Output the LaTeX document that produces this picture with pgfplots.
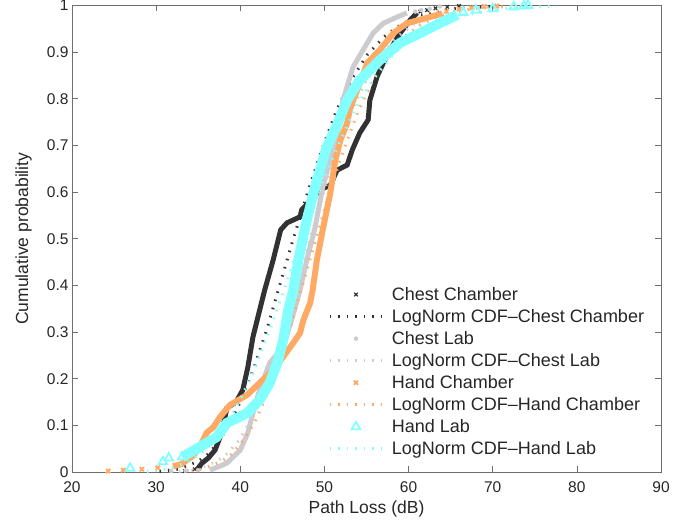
\documentclass[border=0pt]{standalone}
\usepackage{fontspec}
\setmainfont{Liberation Sans}
\usepackage{pgfplots}
\pgfplotsset{compat=1.18}
\definecolor{cch}{RGB}{50,50,50}
\definecolor{clab}{RGB}{204,204,208}
\definecolor{hch}{RGB}{255,170,100}
\definecolor{hlab}{RGB}{130,255,255}
\definecolor{axgray}{RGB}{110,110,110}
\definecolor{txt}{RGB}{38,38,38}
\pgfplotsset{
  lgline/.style={legend image code/.code={\path[draw=none,fill=none] (0pt,0pt) -- (60pt,0pt);\draw[##1] (0pt,0pt) -- (52pt,0pt);}},
  lgmark/.style={legend image code/.code={\path[draw=none,fill=none] (0pt,0pt) -- (60pt,0pt);\draw[##1] plot coordinates {(26pt,0pt)};}},
  fit/.style={line width=3pt, dash pattern=on 1.5pt off 7pt, lgline},
}

\begin{document}
\begin{tikzpicture}
\begin{axis}[name=ax, scale only axis, width=589pt, height=466.5pt,
  xmin=20, xmax=90, ymin=0, ymax=1,
  xtick={20,30,40,50,60,70,80,90},
  ytick={0,0.1,0.2,0.3,0.4,0.5,0.6,0.7,0.8,0.9,1},
  tick align=inside, tick pos=both, major tick length=6pt,
  axis line style={axgray, line width=0.6pt},
  every tick/.style={axgray, line width=0.6pt},
  tick label style={font=\fontsize{15.5}{17}\selectfont, text=txt},
  xticklabel style={yshift=-6pt},
  /pgf/number format/assume math mode=true,
  xlabel={Path Loss (dB)}, ylabel={Cumulative probability},
  label style={font=\fontsize{17.5}{20}\selectfont, text=txt},
  xlabel style={at={(axis description cs:0.5,-0.062)}, anchor=north, inner sep=0pt},
  ylabel style={at={(axis description cs:-0.068,0.5)}, anchor=south, rotate=0, inner sep=0pt},
  legend style={draw=none, fill=none, at={(0.43,0.405)}, anchor=north west,
    font=\fontsize{18}{22}\selectfont, text=txt, row sep=3.5pt},
  legend cell align=left,
  clip=false]

% Chest Chamber
\addplot[cch, line width=5pt, forget plot] coordinates {
(34.8,0.004)(35.45,0.019)(36.2,0.030)(37.0,0.047)(37.8,0.084)(38.4,0.137)
(39.5,0.150)(40.3,0.176)(40.9,0.225)(41.5,0.289)(42.3,0.347)(42.9,0.390)
(43.9,0.454)(44.8,0.519)(45.55,0.534)(47.1,0.547)(47.3,0.562)(48.5,0.585)
(49.5,0.605)(50.7,0.615)(51.5,0.647)(52.7,0.658)(53.3,0.690)(54.2,0.727)
(55.2,0.755)(55.4,0.797)(56.25,0.847)(57.0,0.877)(57.8,0.905)(59.0,0.941)
(60.2,0.969)(61.0,0.984)};
\addplot[cch, only marks, mark=x, mark size=2.5pt, line width=1.2pt, lgmark] coordinates {
(33.4,0.002)(34.6,0.006)(35.2,0.012)(61.4,0.987)(62.2,0.990)(63.2,0.994)(64.6,0.997)(66.0,0.999)};
\addplot[cch, fit] coordinates {
(30.4,0.00135)(32.6,0.0062)(35.0,0.0228)(36.3,0.0401)(37.5,0.0668)(38.8,0.1056)
(40.2,0.1587)(41.7,0.2266)(43.2,0.3085)(44.7,0.4013)(46.3,0.5)(48.0,0.5987)
(49.7,0.6915)(51.4,0.7734)(53.2,0.8413)(55.1,0.8944)(57.1,0.9332)(59.2,0.9599)
(61.3,0.9772)(65.7,0.9938)(70.5,0.99865)};

% Chest Lab
\addplot[clab, line width=5pt, forget plot] coordinates {
(36.4,0.004)(37.5,0.012)(38.4,0.019)(40.0,0.047)(40.9,0.084)(41.5,0.126)
(42.3,0.176)(43.5,0.234)(45.1,0.268)(46.1,0.326)(47.1,0.390)(47.9,0.454)
(48.9,0.525)(49.8,0.611)(50.7,0.669)(51.5,0.718)(52.2,0.797)(53.4,0.868)
(54.6,0.905)(55.8,0.941)(57.0,0.962)(58.6,0.975)(59.8,0.984)};
\addplot[clab, only marks, mark=*, mark size=2pt, lgmark] coordinates {
(31.8,0.002)(33.5,0.003)(35.0,0.004)(60.8,0.987)(61.5,0.990)(62.5,0.993)(63.7,0.998)};
\addplot[clab, fit] coordinates {
(32.7,0.00135)(34.9,0.0062)(37.2,0.0228)(38.5,0.0401)(39.8,0.0668)(41.1,0.1056)
(42.4,0.1587)(43.8,0.2266)(45.3,0.3085)(46.8,0.4013)(48.3,0.5)(49.9,0.5987)
(51.5,0.6915)(53.2,0.7734)(55.0,0.8413)(56.8,0.8944)(58.7,0.9332)(60.6,0.9599)
(62.6,0.9772)(66.8,0.9938)(71.3,0.99865)};

% Hand Chamber
\addplot[hch, line width=6pt, forget plot] coordinates {
(32.0,0.012)(33.0,0.017)(34.4,0.035)(35.2,0.054)(36.0,0.084)(36.8,0.096)
(37.6,0.118)(38.8,0.144)(40.8,0.165)(42.3,0.191)(43.9,0.219)(45.1,0.247)
(46.3,0.277)(47.1,0.298)(47.5,0.326)(48.3,0.362)(48.6,0.390)(49.1,0.454)
(49.8,0.519)(50.7,0.598)(51.3,0.669)(51.9,0.712)(52.7,0.748)(53.0,0.776)
(53.9,0.819)(55.1,0.877)(56.6,0.905)(58.2,0.941)(59.8,0.962)(62.5,0.975)(64.0,0.983)};
\addplot[hch, only marks, mark=x, mark size=3pt, line width=1.8pt, lgmark] coordinates {
(24.3,0.002)(26.1,0.004)(28.3,0.006)(30.2,0.009)(64.5,0.988)(66.0,0.992)(67.5,0.995)(69.0,0.998)(70.5,0.999)};
\addplot[hch, fit] coordinates {
(33.2,0.00135)(35.4,0.0062)(37.8,0.0228)(39.1,0.0401)(40.3,0.0668)(41.7,0.1056)
(43.0,0.1587)(44.4,0.2266)(45.9,0.3085)(47.4,0.4013)(49.0,0.5)(50.6,0.5987)
(52.3,0.6915)(54.0,0.7734)(55.8,0.8413)(57.6,0.8944)(59.5,0.9332)(61.5,0.9599)
(63.6,0.9772)(67.8,0.9938)(72.4,0.99865)};

% Hand Lab
\addplot[hlab, line width=10pt, forget plot] coordinates {
(33.1,0.032)(35.2,0.054)(37.2,0.075)(38.4,0.105)(40.8,0.126)(42.3,0.154)
(43.5,0.191)(44.4,0.234)(45.1,0.283)(45.7,0.347)(46.3,0.390)(46.9,0.454)
(47.9,0.540)(49.1,0.626)(50.3,0.697)(51.5,0.744)(52.7,0.797)(54.2,0.840)
(56.6,0.883)(59.0,0.920)(61.4,0.941)(63.7,0.962)(65.8,0.980)};
\addplot[hlab, only marks, mark=triangle, mark size=5pt, line width=1.8pt, lgmark] coordinates {
(26.9,0.008)(30.8,0.022)(31.5,0.030)(33.1,0.032)(34.5,0.045)
(66.5,0.985)(68.0,0.990)(70.0,0.993)(72.5,0.997)(73.7,0.999)(74.2,1.0)};
\addplot[hlab, fit] coordinates {
(28.9,0.00135)(31.3,0.0062)(34.0,0.0228)(35.4,0.0401)(36.9,0.0668)(38.5,0.1056)
(40.1,0.1587)(41.8,0.2266)(43.6,0.3085)(45.4,0.4013)(47.3,0.5)(49.3,0.5987)
(51.4,0.6915)(53.5,0.7734)(55.8,0.8413)(58.1,0.8944)(60.6,0.9332)(63.1,0.9599)
(65.8,0.9772)(71.5,0.9938)(77.6,0.99865)};

\legend{Chest Chamber, LogNorm CDF--Chest Chamber, Chest Lab, LogNorm CDF--Chest Lab,
  Hand Chamber, LogNorm CDF--Hand Chamber, Hand Lab, LogNorm CDF--Hand Lab}
\end{axis}
\pgfresetboundingbox
\path (ax.south west) ++(-72pt,-53pt) coordinate (bl);
\path (ax.north east) ++(33pt,5.5pt) coordinate (tr);
\path (bl) rectangle (tr);
\end{tikzpicture}
\end{document}
